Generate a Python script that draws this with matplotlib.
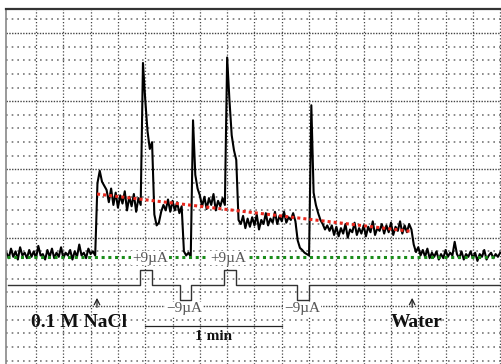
import numpy as np
import matplotlib
matplotlib.use('Agg')
import matplotlib.pyplot as plt

plt.rcParams['font.family'] = ['Liberation Serif', 'DejaVu Serif']

# recorder trace, one sample per second (y in chart divisions)
trace_t = np.arange(-1, 217)
trace_v = [
    3.9, 3.5, 4.2, 3.6, 4.0, 3.4, 4.3, 3.7, 3.9, 3.5, 4.1, 3.6,
    4.0, 3.5, 4.4, 3.7, 3.8, 3.4, 4.1, 3.6, 4.2, 3.5, 3.9, 3.6,
    4.3, 3.5, 3.9, 3.7, 4.1, 3.4, 4.0, 3.6, 4.5, 3.7, 3.9, 3.5,
    4.2, 3.8, 4.0, 3.7, 9.0, 9.9, 9.1, 8.8, 8.5, 7.6, 8.6, 7.4,
    8.3, 7.2, 8.1, 7.5, 8.4, 7.0, 8.0, 7.3, 8.2, 6.9, 7.9, 7.4,
    17.8, 15.1, 12.8, 11.5, 12.0, 6.7, 5.9, 6.1, 6.9, 7.4, 7.0, 7.8,
    6.9, 7.7, 7.0, 7.6, 6.8, 7.3, 4.0, 3.7, 3.9, 3.6, 13.6, 9.6,
    8.6, 8.1, 7.3, 8.0, 7.1, 7.9, 7.4, 8.2, 7.0, 7.7, 7.3, 7.9,
    7.4, 18.2, 15.1, 12.5, 11.4, 10.7, 6.3, 6.0, 6.6, 5.7, 6.4, 5.8,
    6.5, 5.9, 6.7, 5.6, 6.3, 6.0, 6.8, 5.9, 6.4, 6.1, 6.9, 6.0,
    6.6, 6.2, 6.9, 6.1, 6.5, 6.3, 6.8, 6.2, 4.8, 4.25, 4.1, 3.9,
    3.8, 3.7, 14.7, 8.3, 7.4, 6.8, 6.3, 6.0, 5.6, 5.9, 5.5, 5.9,
    5.2, 5.8, 5.1, 5.7, 5.3, 6.0, 5.0, 5.6, 5.4, 6.1, 5.2, 5.7,
    5.3, 5.9, 5.1, 5.8, 5.4, 6.2, 5.2, 5.7, 5.5, 6.0, 5.3, 5.9,
    5.4, 6.1, 5.2, 5.8, 5.5, 6.2, 5.3, 5.9, 5.4, 6.0, 5.6, 4.5,
    3.95, 4.3, 3.7, 4.1, 3.6, 4.2, 3.5, 3.9, 3.6, 4.0, 3.4, 3.8,
    3.5, 4.1, 3.6, 3.9, 3.7, 4.7, 3.8, 3.5, 4.0, 3.4, 3.8, 3.6,
    4.0, 3.5, 3.9, 3.3, 3.8, 3.6, 4.1, 3.4, 3.7, 3.9, 3.5, 3.8,
    3.6, 3.9,
]

# dotted guide lines
base_t = [-0.8, 214.5]
base_v = [3.6, 3.6]
trend_t = [38.8, 176.4]
trend_v = [8.2, 5.47]

# current pulses
pulse_start = [57.7, 75.3, 94.6, 126.7]
pulse_end = [63.0, 80.2, 99.9, 132.0]
pulse_sign = [1, -1, 1, -1]
pulse_text = ['+9\u00b5A', '\u22129\u00b5A', '+9\u00b5A', '\u22129\u00b5A']
pulse_text_t = [62.1, 77.1, 96.4, 128.9]
stim_base = 1.54
stim_amp = 1.12

# events and scale bar
event_t = [38.8, 177.3]
event_text = ['0.1 M NaCl', 'Water']
event_text_t = [31.1, 179.5]
scale_t = [60, 120]

fig = plt.figure(figsize=(5.02, 3.64), dpi=100)
ax = fig.add_axes([6/502, 0, 496/502, 355/364])
ax.set_xlim(-1.2, 216.8)
ax.set_ylim(-4.25, 21.75)

# chart paper
for k in range(1, 19):
    ax.axvline(12*k, color='#444444', lw=0.9, ls=(0, (1, 1.6)), zorder=0)
for k in range(-4, 22):
    if k % 5 == 0:
        ax.axhline(k, color='#444444', lw=1.0, ls=(0, (1, 1)), zorder=0)
    else:
        ax.axhline(k, color='#777777', lw=1.2, ls=(0, (1, 2.4)), zorder=0)

ax.plot(trace_t, trace_v, color='black', lw=1.5, zorder=2)
ax.plot(base_t, base_v, color='#1a8c1a', lw=2.2, ls=(0, (1, 1.2)), zorder=3)
ax.plot(trend_t, trend_v, color='#e8281e', lw=2.2, ls=(0, (1, 1)), zorder=3)

# stimulus step trace
st = [-0.5]
sv = [stim_base]
for a, b, s in zip(pulse_start, pulse_end, pulse_sign):
    lvl = stim_base + s*stim_amp
    st += [a, a, b, b]
    sv += [stim_base, lvl, lvl, stim_base]
st.append(216.8)
sv.append(stim_base)
ax.plot(st, sv, color='#333333', lw=1.0, zorder=2)

for txt, x, s in zip(pulse_text, pulse_text_t, pulse_sign):
    y = 3.51 if s > 0 else -0.22
    ax.text(x, y, txt, ha='center', va='center', fontsize=11, color='#555555',
            bbox=dict(facecolor='white', edgecolor='none', pad=0.5), zorder=4)

for x in event_t:
    ax.annotate('', xy=(x, 0.8), xytext=(x, -0.3),
                arrowprops=dict(arrowstyle='->', lw=0.9, color='#222222'))
for txt, x in zip(event_text, event_text_t):
    ax.text(x, -1.2, txt, ha='center', va='center', fontsize=14,
            fontweight='bold', color='#111111')

ax.plot(scale_t, [-1.46, -1.46], color='#222222', lw=0.9)
ax.text(np.mean(scale_t), -2.27, '1 min', ha='center', va='center',
        fontsize=11, fontweight='bold', color='#111111')

ax.set_xticks([])
ax.set_yticks([])
ax.spines['right'].set_visible(False)
ax.spines['bottom'].set_visible(False)
ax.spines['top'].set_color('#333333')
ax.spines['top'].set_linewidth(1.6)
ax.spines['left'].set_color('#888888')
ax.spines['left'].set_linewidth(1.2)

fig.savefig('out.png', dpi=100)
